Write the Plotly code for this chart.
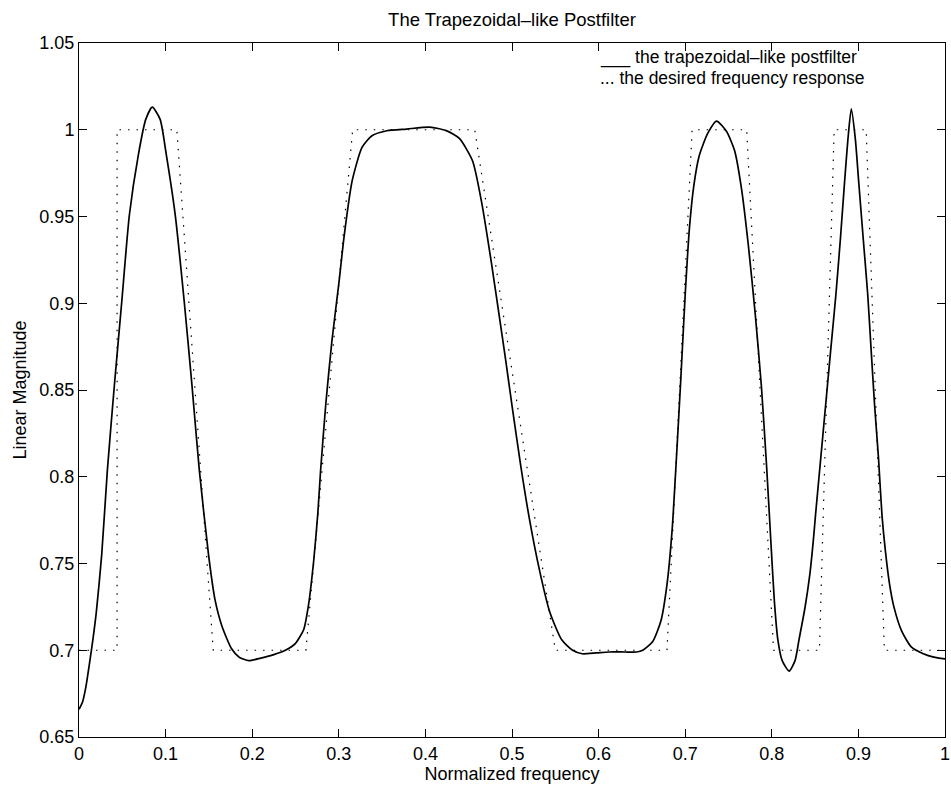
import plotly.graph_objects as go

# Frequency response of the trapezoidal-like postfilter (solid curve)
freq = [0.0, 0.004, 0.008, 0.012, 0.016, 0.020, 0.0262, 0.0328, 0.0409, 0.0494,
        0.0582, 0.0687, 0.0771, 0.0846, 0.0937, 0.1007, 0.1111, 0.1215, 0.1304,
        0.1389, 0.1496, 0.1571, 0.1650, 0.1760, 0.1850, 0.1960, 0.2100, 0.2250,
        0.2382, 0.2500, 0.2595, 0.2650, 0.2711, 0.2758, 0.2789, 0.2850, 0.2920,
        0.3002, 0.3060, 0.3154, 0.3268, 0.3383, 0.3554, 0.3783, 0.4050, 0.4240,
        0.4392, 0.4545, 0.4650, 0.4760, 0.4846, 0.4925, 0.5003, 0.5102, 0.5200,
        0.5318, 0.5436, 0.5574, 0.5700, 0.5810, 0.5975, 0.6124, 0.6300, 0.6439,
        0.6510, 0.6625, 0.6720, 0.6790, 0.6850, 0.6900, 0.6950, 0.7000, 0.7050,
        0.7100, 0.7162, 0.7261, 0.7362, 0.7478, 0.7570, 0.7650, 0.7730, 0.7810,
        0.7880, 0.7940, 0.7990, 0.8030, 0.8070, 0.8120, 0.8200, 0.8268, 0.8314,
        0.8383, 0.8440, 0.8479, 0.8505, 0.8564, 0.8623, 0.8682, 0.8741, 0.8792,
        0.8839, 0.8879, 0.8918, 0.8965, 0.9005, 0.9056, 0.9107, 0.9146, 0.9186,
        0.9233, 0.9272, 0.9310, 0.9360, 0.9410, 0.9500, 0.9610, 0.9750, 0.9870,
        1.0]
magnitude = [0.666, 0.670, 0.679, 0.692, 0.706, 0.722, 0.755, 0.804, 0.853, 0.901,
             0.951, 0.986, 1.006, 1.013, 1.006, 0.986, 0.951, 0.901, 0.853,
             0.804, 0.755, 0.729, 0.714, 0.701, 0.696, 0.694, 0.6955, 0.6975,
             0.700, 0.704, 0.712, 0.726, 0.752, 0.779, 0.803, 0.842, 0.878,
             0.912, 0.938, 0.9705, 0.9898, 0.9965, 0.9994, 1.0004, 1.0015, 0.9995,
             0.995, 0.982, 0.958, 0.924, 0.895, 0.868, 0.840, 0.806, 0.776,
             0.746, 0.722, 0.706, 0.700, 0.698, 0.6985, 0.699, 0.699, 0.699,
             0.700, 0.705, 0.717, 0.738, 0.770, 0.812, 0.857, 0.905, 0.944,
             0.968, 0.985, 0.998, 1.005, 0.999, 0.988, 0.966, 0.933, 0.893,
             0.852, 0.806, 0.762, 0.728, 0.706, 0.694, 0.688, 0.694, 0.706,
             0.7245, 0.744, 0.763, 0.778, 0.810, 0.842, 0.874, 0.9055, 0.937,
             0.969, 0.9945, 1.012, 0.9945, 0.969, 0.937, 0.9055, 0.874, 0.842,
             0.810, 0.778, 0.758, 0.738, 0.725, 0.711, 0.702, 0.698, 0.696,
             0.695]

# Desired (ideal) frequency response (dotted trapezoids)
desired_freq = [0.0, 0.044, 0.044, 0.113, 0.155, 0.262, 0.316, 0.457, 0.550,
                0.679, 0.708, 0.771, 0.802, 0.855, 0.872, 0.909, 0.930, 1.0]
desired_mag = [0.7, 0.7, 1.0, 1.0, 0.7, 0.7, 1.0, 1.0, 0.7,
               0.7, 1.0, 1.0, 0.7, 0.7, 1.0, 1.0, 0.7, 0.7]

x_ticks = [0, 0.1, 0.2, 0.3, 0.4, 0.5, 0.6, 0.7, 0.8, 0.9, 1.0]
x_tick_text = ["0", "0.1", "0.2", "0.3", "0.4", "0.5", "0.6", "0.7", "0.8", "0.9", "1"]
y_ticks = [0.65, 0.7, 0.75, 0.8, 0.85, 0.9, 0.95, 1.0, 1.05]
y_tick_text = ["0.65", "0.7", "0.75", "0.8", "0.85", "0.9", "0.95", "1", "1.05"]

legend_lines = ["___ the trapezoidal\u2013like postfilter",
                "... the desired frequency response"]

FONT = "Liberation Sans, Arial, Helvetica, sans-serif"

fig = go.Figure()
fig.add_trace(go.Scatter(
    x=desired_freq, y=desired_mag, mode="lines",
    line=dict(color="black", width=1.2, dash="1.5px,7px"),
    name="the desired frequency response", showlegend=False,
))
fig.add_trace(go.Scatter(
    x=freq, y=magnitude, mode="lines",
    line=dict(color="black", width=1.7, shape="spline", smoothing=0.6),
    name="the trapezoidal-like postfilter", showlegend=False,
))

axis_common = dict(
    showline=True, linecolor="black", linewidth=1, mirror="allticks",
    ticks="inside", ticklen=8, tickwidth=1, tickcolor="black",
    showgrid=False, zeroline=False, ticklabeloverflow="allow",
    automargin=False,
    tickfont=dict(family=FONT, size=18, color="black"),
)

fig.update_xaxes(range=[0, 1], tickvals=x_ticks, ticktext=x_tick_text,
                 title=dict(text="Normalized frequency",
                            font=dict(family=FONT, size=18, color="black"),
                            standoff=4),
                 **axis_common)
fig.update_yaxes(range=[0.65, 1.05], tickvals=y_ticks, ticktext=y_tick_text,
                 title=dict(text="Linear Magnitude",
                            font=dict(family=FONT, size=18, color="black"),
                            standoff=8),
                 **axis_common)

W, H = 951, 790
L, R, T, B = 79, 6, 43, 53
pw, ph = W - L - R, H - T - B

# Legend text rows, placed by pixel position inside the plot area
legend_rows = [57, 78]
for row, txt in zip(legend_rows, legend_lines):
    fig.add_annotation(
        x=(598 - L) / pw, y=1 - (row - T) / ph,
        xref="x domain", yref="y domain",
        text=txt, showarrow=False, xanchor="left", yanchor="middle",
        font=dict(family=FONT, size=17.5, color="black"),
    )

fig.update_layout(
    width=W, height=H,
    margin=dict(l=L, r=R, t=T, b=B, autoexpand=False),
    paper_bgcolor="white", plot_bgcolor="white",
    title=dict(text="The Trapezoidal\u2013like Postfilter",
               font=dict(family=FONT, size=18.5, color="black"),
               x=0.5, xref="paper", xanchor="center",
               y=1 - 20 / H, yref="container", yanchor="middle"),
    showlegend=False,
)

fig.write_html("out.html")
